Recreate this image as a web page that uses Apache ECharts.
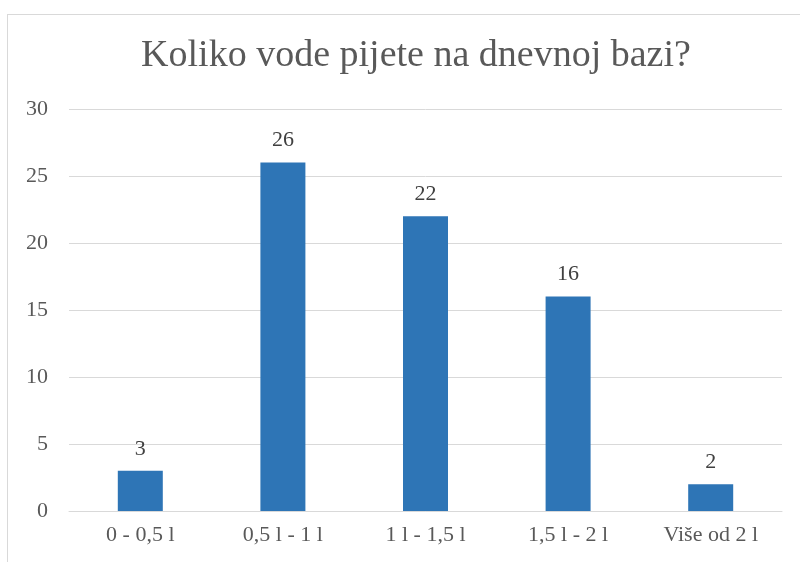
<!DOCTYPE html>
<html>
<head>
<meta charset="utf-8">
<script src="https://cdn.jsdelivr.net/npm/echarts@6/dist/echarts.min.js"></script>
<style>
html, body { margin: 0; padding: 0; background: #fff; }
#frame {
    position: absolute;
    left: 7px;
    top: 14px;
    width: 800px;
    height: 560px;
    border: 1px solid #d9d9d9;
    box-sizing: border-box;
}
#chart { position: absolute; left: 0; top: 0; width: 800px; height: 562px; }
</style>
</head>
<body>
<div id="frame"></div>
<div id="chart"></div>
<script>
const titleText = 'Koliko vode pijete na dnevnoj bazi?';
const categories = ['0 - 0,5 l', '0,5 l - 1 l', '1 l - 1,5 l', '1,5 l - 2 l', 'Više od 2 l'];
const values = [3, 26, 22, 16, 2];

const serif = '"Liberation Serif", "Times New Roman", serif';

const chart = echarts.init(document.getElementById('chart'));

const options = {
    animation: false,
    title: {
        text: titleText,
        left: 411,
        textAlign: 'center',
        top: 32,
        textStyle: {
            fontFamily: serif,
            fontSize: 38,
            fontWeight: 'normal',
            color: '#595959'
        }
    },
    grid: {
        left: 69,
        right: 18,
        top: 109,
        bottom: 51
    },
    xAxis: {
        type: 'category',
        data: categories,
        axisLine: { lineStyle: { color: '#d9d9d9', width: 1 } },
        axisTick: { show: false },
        axisLabel: {
            margin: 13,
            fontFamily: serif,
            fontSize: 22,
            color: '#595959'
        }
    },
    yAxis: {
        type: 'value',
        min: 0,
        max: 30,
        interval: 5,
        axisLine: { show: false },
        axisTick: { show: false },
        splitLine: { lineStyle: { color: '#d9d9d9', width: 1 } },
        axisLabel: {
            margin: 21,
            fontFamily: serif,
            fontSize: 22,
            color: '#595959'
        }
    },
    series: [
        {
            type: 'bar',
            data: values,
            barWidth: 45,
            itemStyle: { color: '#2e75b6' },
            label: {
                show: true,
                position: 'top',
                distance: 11,
                fontFamily: serif,
                fontSize: 22,
                color: '#404040'
            }
        }
    ]
};

chart.setOption(options);
</script>
</body>
</html>
